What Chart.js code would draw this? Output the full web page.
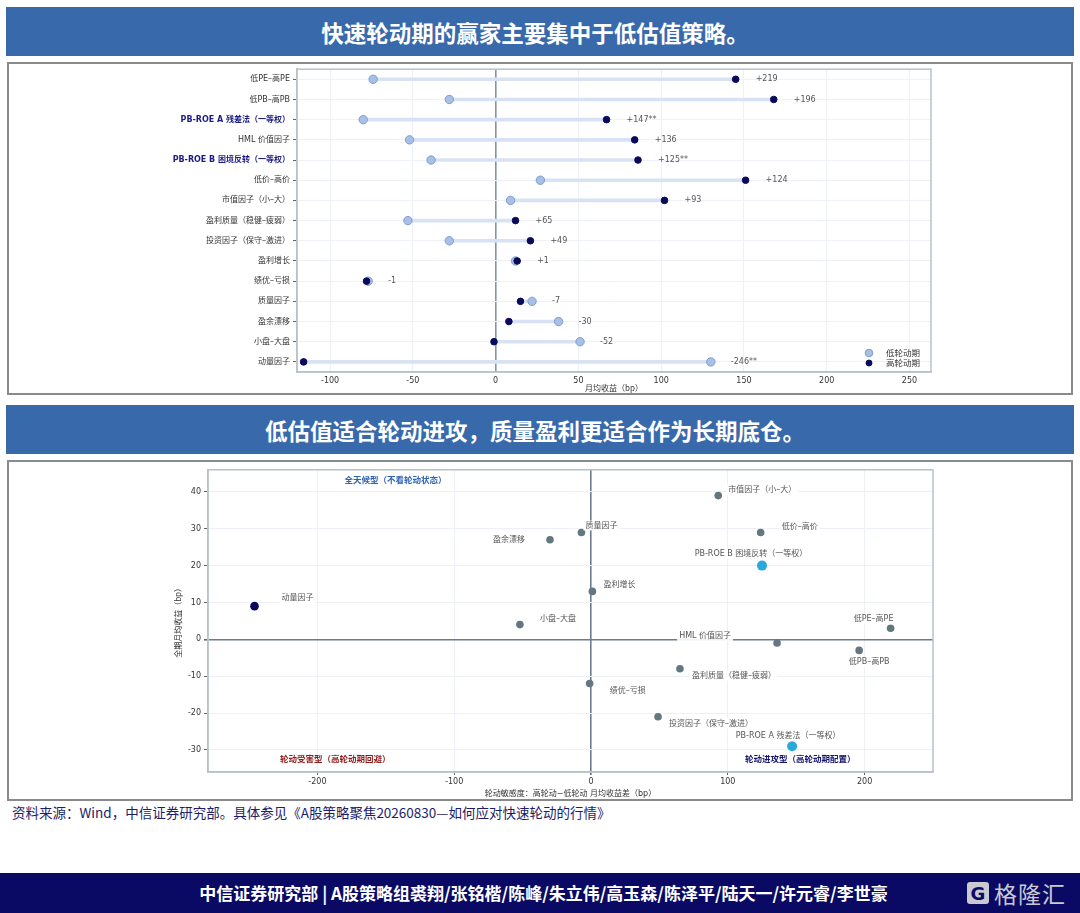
<!DOCTYPE html>
<html>
<head>
<meta charset="utf-8">
<script src="https://cdn.jsdelivr.net/npm/chart.js@4.4.0/dist/chart.umd.min.js"></script>
<style>
  body { margin: 0; width: 1080px; height: 913px; background: #fff; position: relative; overflow: hidden;
         font-family: "Noto Sans CJK SC", sans-serif; }
  .bar { position: absolute; left: 6px; width: 1058px; padding-right: 10px; height: 49px; background: #386aab; color: #fff;
         font-weight: bold; font-size: 22.5px; display: flex; align-items: center; justify-content: center; }
  .box { position: absolute; left: 7px; width: 1062px; border: 2px solid #8a8a8a; background: #fff; }
  .box canvas { display: block; }
  .source { position: absolute; left: 12px; top: 802px; font-size: 13.5px; color: #1d1d6b; }
  .footer { position: absolute; left: 0; top: 873px; width: 1080px; height: 40px; background: #0a0a64; }
  .footer .txt { position: absolute; left: 0; width: 1087px; top: 0; height: 40px; line-height: 40px; text-align: center;
                 color: #fff; font-weight: bold; font-size: 17px; }
  .logo { position: absolute; left: 967px; top: 8px; height: 24px; display: flex; align-items: center; color: #c9c9d2; }
  .logo .g { width: 22px; height: 22px; border-radius: 3px; background: #c9c9d2; color: #0a0a64; font: bold 18px "DejaVu Sans";
             display: flex; align-items: center; justify-content: center; margin-right: 5px; }
  .logo .n { font-size: 23px; letter-spacing: 1px; }
</style>
</head>
<body>
<div class="bar" style="top:7px;">快速轮动期的赢家主要集中于低估值策略。</div>
<div class="box" style="top:62px;height:329px;"><canvas id="top" width="1062" height="329"></canvas></div>
<div class="bar" style="top:405px;">低估值适合轮动进攻，质量盈利更适合作为长期底仓。</div>
<div class="box" style="top:460px;height:337px;"><canvas id="bottom" width="1062" height="337"></canvas></div>
<div class="source">资料来源：Wind，中信证券研究部。具体参见《A股策略聚焦20260830—如何应对快速轮动的行情》</div>
<div class="footer">
  <div class="txt">中信证券研究部 | A股策略组裘翔/张铭楷/陈峰/朱立伟/高玉森/陈泽平/陆天一/许元睿/李世豪</div>
  <div class="logo"><div class="g">G</div><div class="n">格隆汇</div></div>
</div>

<script>
// ===== DATA =====
const factorNames = ['低PE–高PE', '低PB–高PB', 'PB-ROE A 残差法（一等权）', 'HML 价值因子', 'PB-ROE B 困境反转（一等权）',
  '低价–高价', '市值因子（小–大）', '盈利质量（稳健–疲弱）', '投资因子（保守–激进）', '盈利增长',
  '绩优–亏损', '质量因子', '盈余漂移', '小盘–大盘', '动量因子'];
const lowRotation = [-74, -28, -80, -52, -39, 27, 9, -53, -28, 12, -77, 22, 38, 51, 130];
const highRotation = [145, 168, 67, 84, 86, 151, 102, 12, 21, 13, -78, 15, 8, -1, -116];
const spreadLabels = ['+219', '+196', '+147**', '+136', '+125**', '+124', '+93', '+65', '+49', '+1', '-1', '-7', '-30', '-52', '-246**'];
const boldFactors = ['PB-ROE A 残差法（一等权）', 'PB-ROE B 困境反转（一等权）'];
const topTicks = [-100, -50, 0, 50, 100, 150, 200, 250];

// scatter: x = 高轮动-低轮动 收益差, y = 全期月均收益
const sensitivity = [219, 196, 147, 136, 125, 124, 93, 65, 49, 1, -1, -7, -30, -52, -246];
const fullReturn = [3, -3, -29, -1, 20, 29, 39, -8, -21, 13, -12, 29, 27, 4, 9];
const bottomXTicks = [-200, -100, 0, 100, 200];
const bottomYTicks = [-30, -20, -10, 0, 10, 20, 30, 40];

// label placement for the scatter (pixels from point)
const labelPlace = [
  [-17, -9, 'center'], [10, 12, 'center'], [-4, -10, 'center'], [-46, -7, 'right'], [-11, -12, 'center'],
  [21, -6, 'left'], [10, -6, 'left'], [12, 7, 'left'], [11, 7, 'left'], [11, -6, 'left'],
  [20, 7, 'left'], [4, -7, 'left'], [-25, 0, 'right'], [20, -6, 'left'], [27, -8, 'left']
];
const quadrantNotes = [
  { x: -143, y: 43, text: '全天候型（不看轮动状态）', color: '#2f63b4' },
  { x: -187, y: -32.7, text: '轮动受害型（高轮动期回避）', color: '#8e1c1c' },
  { x: 153, y: -32.7, text: '轮动进攻型（高轮动期配置）', color: '#15156e' }
];

Chart.defaults.font.family = '"DejaVu Sans", "Noto Sans CJK SC", sans-serif';
Chart.defaults.color = '#333';
Chart.defaults.animation = false;

const NAVY = '#0a0a5c';
const zeroGrid = (ctx, zero, other) => (ctx.tick && ctx.tick.value === 0 ? zero : other);

function frame(chart) {
  const { ctx, chartArea: a } = chart;
  ctx.save();
  ctx.strokeStyle = '#b9c1cb';
  ctx.lineWidth = 1.5;
  ctx.strokeRect(a.left, a.top, a.right - a.left, a.bottom - a.top);
  ctx.restore();
}

// ===== TOP: dumbbell =====
const dumbbellExtras = {
  id: 'dumbbellExtras',
  afterDatasetsDraw(chart) {
    const { ctx, scales: { x, y }, chartArea: a } = chart;
    frame(chart);
    ctx.save();
    ctx.font = '8px "DejaVu Sans"';
    ctx.fillStyle = '#555';
    ctx.textBaseline = 'middle';
    factorNames.forEach((n, i) => {
      const px = x.getPixelForValue(Math.max(lowRotation[i], highRotation[i])) + 20;
      ctx.fillText(spreadLabels[i], px, y.getPixelForValue(i));
    });
    // legend inside plot
    const items = [['低轮动期', '#a8c0e6', '#7d9cd0', 3.8], ['高轮动期', NAVY, NAVY, 3]];
    ctx.font = '8.5px "Noto Sans CJK SC"';
    items.forEach((it, k) => {
      const cy = a.bottom - 19 + k * 10;
      ctx.beginPath();
      ctx.arc(a.right - 62, cy, it[3], 0, Math.PI * 2);
      ctx.fillStyle = it[1];
      ctx.fill();
      ctx.strokeStyle = it[2];
      ctx.stroke();
      ctx.fillStyle = '#333';
      ctx.fillText(it[0], a.right - 45, cy);
    });
    ctx.restore();
  }
};

new Chart(document.getElementById('top'), {
  type: 'bar',
  data: {
    labels: factorNames,
    datasets: [
      {
        type: 'line', label: '高轮动期', showLine: false, order: 0,
        data: factorNames.map((n, i) => ({ x: highRotation[i], y: n })),
        pointRadius: 3.3, pointBackgroundColor: NAVY, pointBorderColor: NAVY, pointBorderWidth: 1
      },
      {
        type: 'line', label: '低轮动期', showLine: false, order: 1,
        data: factorNames.map((n, i) => ({ x: lowRotation[i], y: n })),
        pointRadius: 4.2, pointBackgroundColor: '#a8c0e6', pointBorderColor: '#7d9cd0', pointBorderWidth: 1
      },
      {
        label: 'range', order: 2,
        data: factorNames.map((n, i) => [lowRotation[i], highRotation[i]]),
        backgroundColor: '#d7e2f4', barThickness: 3
      }
    ]
  },
  options: {
    indexAxis: 'y',
    responsive: false,
    layout: { padding: { top: 3, right: 140, left: 0, bottom: 0 } },
    plugins: { legend: { display: false }, tooltip: { enabled: false } },
    scales: {
      x: {
        type: 'linear', min: -120, max: 263,
        afterBuildTicks: s => { s.ticks = topTicks.map(v => ({ value: v })); },
        afterFit: s => { s.height = 21; },
        grid: {
          drawTicks: false,
          color: c => zeroGrid(c, '#8593a6', '#edf1f7'),
          lineWidth: c => zeroGrid(c, 1.6, 1)
        },
        border: { color: '#b9c1cb', width: 1.5 },
        ticks: { font: { size: 8 }, padding: 4, color: '#333' },
        title: { display: true, text: '月均收益（bp）', font: { size: 8, family: '"Noto Sans CJK SC"' }, padding: 0, color: '#333' }
      },
      y: {
        type: 'category',
        afterFit: s => { s.width = 288; s.paddingTop = 0; s.paddingBottom = 0; },
        grid: { offset: false, color: '#eef2f8', tickColor: '#666', tickLength: 4 },
        border: { color: '#b9c1cb', width: 1.5 },
        ticks: {
          padding: 3,
          color: c => (boldFactors.includes(factorNames[c.index]) ? '#1c1c80' : '#333'),
          font: c => ({ size: 8, weight: boldFactors.includes(factorNames[c.index]) ? 'bold' : 'normal' })
        }
      }
    }
  },
  plugins: [dumbbellExtras]
});

// ===== BOTTOM: scatter =====
const scatterExtras = {
  id: 'scatterExtras',
  afterDatasetsDraw(chart) {
    const { ctx, scales: { x, y }, chartArea: a } = chart;
    frame(chart);
    ctx.save();
    ctx.textBaseline = 'middle';
    ctx.font = '8px "DejaVu Sans", "Noto Sans CJK SC"';
    factorNames.forEach((n, i) => {
      const [dx, dy, align] = labelPlace[i];
      const px = x.getPixelForValue(sensitivity[i]) + dx;
      const py = y.getPixelForValue(fullReturn[i]) + dy;
      const w = ctx.measureText(n).width;
      const left = align === 'left' ? px : align === 'right' ? px - w : px - w / 2;
      ctx.fillStyle = 'rgba(255,255,255,0.9)';
      ctx.fillRect(left - 2, py - 5, w + 4, 10);
      ctx.fillStyle = '#555';
      ctx.textAlign = align;
      ctx.fillText(n, px, py);
    });
    ctx.font = 'bold 8.5px "DejaVu Sans", "Noto Sans CJK SC"';
    ctx.textAlign = 'center';
    quadrantNotes.forEach(q => {
      ctx.fillStyle = q.color;
      ctx.fillText(q.text, x.getPixelForValue(q.x), y.getPixelForValue(q.y));
    });
    // y axis title
    ctx.translate(a.left - 30, (a.top + a.bottom) / 2);
    ctx.rotate(-Math.PI / 2);
    ctx.font = '8px "Noto Sans CJK SC"';
    ctx.fillStyle = '#333';
    ctx.fillText('全期月均收益（bp）', 0, 0);
    ctx.restore();
  }
};

const pointColor = n => (boldFactors.includes(n) ? '#2aa8dc' : n === '动量因子' ? NAVY : '#62777f');
const pointSize = n => (boldFactors.includes(n) ? 5 : n === '动量因子' ? 4.3 : 3.8);

new Chart(document.getElementById('bottom'), {
  type: 'scatter',
  data: {
    datasets: [{
      label: 'factors',
      data: factorNames.map((n, i) => ({ x: sensitivity[i], y: fullReturn[i] })),
      pointRadius: factorNames.map(pointSize),
      pointBackgroundColor: factorNames.map(pointColor),
      pointBorderColor: factorNames.map(pointColor),
      pointBorderWidth: 0
    }]
  },
  options: {
    responsive: false,
    layout: { padding: { top: 5, right: 138, left: 0, bottom: 0 } },
    plugins: { legend: { display: false }, tooltip: { enabled: false } },
    scales: {
      x: {
        type: 'linear', min: -280, max: 250,
        afterBuildTicks: s => { s.ticks = bottomXTicks.map(v => ({ value: v })); },
        afterFit: s => { s.height = 27; },
        grid: {
          tickLength: 3, tickColor: '#666',
          color: c => zeroGrid(c, '#6d7b8d', '#edf1f7'),
          lineWidth: c => zeroGrid(c, 1.6, 1)
        },
        border: { color: '#b9c1cb', width: 1.5 },
        ticks: { font: { size: 8 }, padding: 2, color: '#333' },
        title: { display: true, text: '轮动敏感度：高轮动−低轮动 月均收益差（bp）', font: { size: 8 }, padding: 0, color: '#333' }
      },
      y: {
        type: 'linear', min: -36, max: 46,
        afterBuildTicks: s => { s.ticks = bottomYTicks.map(v => ({ value: v })); },
        afterFit: s => { s.width = 199; },
        grid: {
          tickLength: 4, tickColor: '#666',
          color: c => zeroGrid(c, '#6d7b8d', '#edf1f7'),
          lineWidth: c => zeroGrid(c, 1.6, 1)
        },
        border: { color: '#b9c1cb', width: 1.5 },
        ticks: { font: { size: 8 }, padding: 3, color: '#333' }
      }
    }
  },
  plugins: [scatterExtras]
});
</script>
</body>
</html>
